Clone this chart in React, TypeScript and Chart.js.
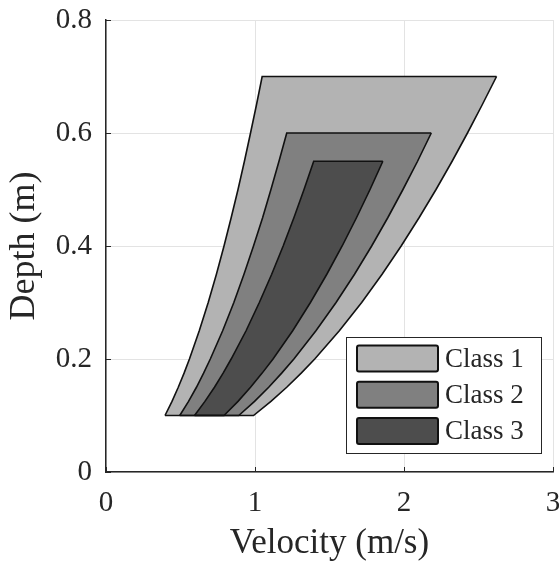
import React, { useEffect, useRef } from "react";
import { Chart, registerables } from "chart.js";

Chart.register(...registerables);

// ---- data ----
const classNames = ["Class 1", "Class 2", "Class 3"];
const classColors = ["#b3b3b3", "#808080", "#4d4d4d"];

const depth1 = [0.1, 0.125, 0.15, 0.175, 0.2, 0.25, 0.3, 0.35, 0.4, 0.45, 0.5, 0.55, 0.6, 0.65, 0.7];
const left1 = [0.396, 0.443, 0.485, 0.524, 0.56, 0.626, 0.686, 0.741, 0.792, 0.84, 0.886, 0.929, 0.97, 1.01, 1.048];
const right1 = [0.99, 1.107, 1.213, 1.31, 1.401, 1.566, 1.716, 1.853, 1.981, 2.101, 2.215, 2.323, 2.426, 2.525, 2.621];

const depth2 = [0.1, 0.125, 0.15, 0.175, 0.2, 0.25, 0.3, 0.35, 0.4, 0.45, 0.5, 0.55, 0.6];
const left2 = [0.495, 0.554, 0.607, 0.655, 0.7, 0.783, 0.858, 0.926, 0.99, 1.051, 1.107, 1.161, 1.213];
const right2 = [0.891, 0.997, 1.092, 1.179, 1.261, 1.409, 1.544, 1.668, 1.783, 1.891, 1.993, 2.091, 2.183];

const depth3 = [0.1, 0.125, 0.15, 0.175, 0.2, 0.25, 0.3, 0.35, 0.4, 0.45, 0.5, 0.55];
const left3 = [0.594, 0.664, 0.728, 0.786, 0.84, 0.94, 1.029, 1.112, 1.189, 1.261, 1.329, 1.394];
const right3 = [0.792, 0.886, 0.97, 1.048, 1.121, 1.253, 1.372, 1.482, 1.585, 1.681, 1.772, 1.858];

const xTicks = [0, 1, 2, 3];
const yTicks = [0, 0.2, 0.4, 0.6, 0.8];
const xTitle = "Velocity (m/s)";
const yTitle = "Depth (m)";

const FONT = "'Liberation Serif', 'Times New Roman', serif";
const TEXT = "#262626";

type Pt = { x: number; y: number };

// upper chain: left edge (bottom to top) + top edge
function upperChain(depth: number[], left: number[], right: number[]): Pt[] {
  const pts = depth.map((d, i) => ({ x: left[i], y: d }));
  pts.push({ x: right[right.length - 1], y: depth[depth.length - 1] });
  return pts;
}
// lower chain: bottom edge + right edge (bottom to top)
function lowerChain(depth: number[], left: number[], right: number[]): Pt[] {
  return [{ x: left[0], y: depth[0] }, ...depth.map((d, i) => ({ x: right[i], y: d }))];
}

const classes = [
  { depth: depth1, left: left1, right: right1 },
  { depth: depth2, left: left2, right: right2 },
  { depth: depth3, left: left3, right: right3 },
];

const inTicksPlugin = {
  id: "inTicks",
  afterDatasetsDraw(chart: any) {
    const { ctx, chartArea: a, scales } = chart;
    ctx.save();
    ctx.strokeStyle = TEXT;
    ctx.lineWidth = 1;
    xTicks.forEach((v) => {
      const px = Math.round(scales.x.getPixelForValue(v)) + 0.5;
      ctx.beginPath();
      ctx.moveTo(px, a.bottom);
      ctx.lineTo(px, a.bottom - 5);
      ctx.stroke();
    });
    yTicks.forEach((v) => {
      const py = Math.round(scales.y.getPixelForValue(v)) + 0.5;
      ctx.beginPath();
      ctx.moveTo(a.left, py);
      ctx.lineTo(a.left + 5, py);
      ctx.stroke();
    });
    ctx.restore();
  },
};

const boxLegendPlugin = {
  id: "boxLegend",
  afterDraw(chart: any) {
    const { ctx, chartArea: a } = chart;
    const boxW = 195;
    const boxH = 116;
    const right = a.right - 12;
    const bottom = a.bottom - 19;
    const left = right - boxW;
    const top = bottom - boxH;
    ctx.save();
    ctx.fillStyle = "#ffffff";
    ctx.fillRect(left, top, boxW, boxH);
    ctx.strokeStyle = TEXT;
    ctx.lineWidth = 1;
    ctx.strokeRect(left + 0.5, top + 0.5, boxW, boxH);
    const rowH = 36.3;
    classNames.forEach((name, i) => {
      const cy = top + 21.5 + i * rowH;
      const sx = left + 11;
      const sw = 81;
      const sh = 26;
      ctx.beginPath();
      if (ctx.roundRect) ctx.roundRect(sx, cy - sh / 2, sw, sh, 2);
      else ctx.rect(sx, cy - sh / 2, sw, sh);
      ctx.fillStyle = classColors[i];
      ctx.fill();
      ctx.lineWidth = 2;
      ctx.strokeStyle = "#111111";
      ctx.stroke();
      ctx.fillStyle = TEXT;
      ctx.font = `27px ${FONT}`;
      ctx.textBaseline = "middle";
      ctx.textAlign = "left";
      ctx.fillText(name, left + 99, cy + 1);
    });
    ctx.restore();
  },
};

export default function App() {
  const ref = useRef<HTMLCanvasElement | null>(null);

  useEffect(() => {
    document.body.style.margin = "0";
    const canvas = ref.current;
    if (!canvas) return;

    const datasets: any[] = [];
    classes.forEach((c, k) => {
      datasets.push({
        label: classNames[k],
        data: upperChain(c.depth, c.left, c.right),
        fill: "+1",
        backgroundColor: classColors[k],
        borderColor: "#111111",
        borderWidth: 1.6,
        pointRadius: 0,
        tension: 0,
        order: 3 - k,
      });
      datasets.push({
        label: classNames[k] + " lower",
        data: lowerChain(c.depth, c.left, c.right),
        fill: false,
        backgroundColor: classColors[k],
        borderColor: "#111111",
        borderWidth: 1.6,
        pointRadius: 0,
        tension: 0,
        order: 3 - k,
      });
    });

    const chart = new Chart(canvas, {
      type: "line",
      data: { datasets },
      plugins: [inTicksPlugin, boxLegendPlugin],
      options: {
        responsive: false,
        animation: false,
        events: [],
        layout: { padding: { left: 0, top: 20, right: 6, bottom: 0 } },
        plugins: {
          legend: { display: false },
          tooltip: { enabled: false },
          filler: { drawTime: "beforeDatasetsDraw" },
        },
        scales: {
          x: {
            type: "linear",
            min: 0,
            max: 3,
            afterFit: (s: any) => {
              s.height = 94;
              s.paddingLeft = 0;
              s.paddingRight = 0;
            },
            afterBuildTicks: (s: any) => {
              s.ticks = xTicks.map((v) => ({ value: v }));
            },
            ticks: {
              color: TEXT,
              font: { family: FONT, size: 29 },
              padding: 14,
              maxRotation: 0,
              autoSkip: false,
              callback: (v: any) => String(v),
            },
            grid: { color: "#e3e3e3", lineWidth: 1, drawTicks: false },
            border: { display: true, color: TEXT, width: 1.5 },
            title: {
              display: true,
              text: xTitle,
              color: TEXT,
              font: { family: FONT, size: 35 },
              padding: { top: 0, bottom: 1 },
            },
          },
          y: {
            type: "linear",
            min: 0,
            max: 0.8,
            afterFit: (s: any) => {
              s.width = 106;
              s.paddingTop = 0;
              s.paddingBottom = 0;
            },
            afterBuildTicks: (s: any) => {
              s.ticks = yTicks.map((v) => ({ value: v }));
            },
            ticks: {
              color: TEXT,
              font: { family: FONT, size: 29 },
              padding: 14,
              autoSkip: false,
              callback: (v: any) => String(v),
            },
            grid: { color: "#e3e3e3", lineWidth: 1, drawTicks: false },
            border: { display: true, color: TEXT, width: 1.5 },
            title: {
              display: true,
              text: yTitle,
              color: TEXT,
              font: { family: FONT, size: 36 },
              padding: { top: 3, bottom: 0 },
            },
          },
        },
      } as any,
    });

    return () => chart.destroy();
  }, []);

  return (
    <div style={{ width: 559, height: 566 }}>
      <canvas ref={ref} width={559} height={566} />
    </div>
  );
}
